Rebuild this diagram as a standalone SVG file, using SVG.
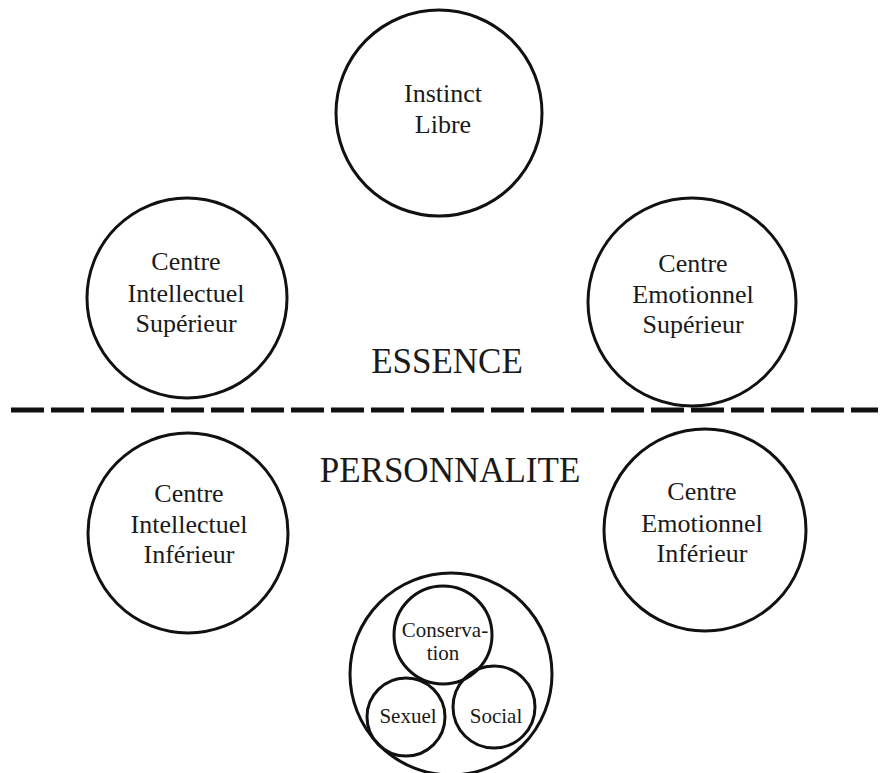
<svg xmlns="http://www.w3.org/2000/svg" width="884" height="773" viewBox="0 0 884 773">
  <style>
    .c { fill: none; stroke: #111; stroke-width: 3; }
    .t { font-family: "Liberation Serif", "DejaVu Serif", serif; font-size: 26px; fill: #1a1a1a; text-anchor: middle; }
    .s { font-family: "Liberation Serif", "DejaVu Serif", serif; font-size: 21px; fill: #1a1a1a; text-anchor: middle; }
    .big { font-family: "Liberation Serif", "DejaVu Serif", serif; font-size: 35px; fill: #1a1a1a; text-anchor: middle; }
    .dash { stroke: #111; stroke-width: 5; stroke-dasharray: 33 7; fill: none; }
  </style>
  <rect width="884" height="773" fill="#fff"/>

  <g id="instinct-libre">
    <circle class="c" cx="439" cy="113" r="103"/>
    <text class="t" x="443" y="102">Instinct</text>
    <text class="t" x="443" y="133">Libre</text>
  </g>

  <g id="centre-intellectuel-superieur">
    <circle class="c" cx="187" cy="298" r="100"/>
    <text class="t" x="186" y="270">Centre</text>
    <text class="t" x="186" y="302">Intellectuel</text>
    <text class="t" x="186" y="332">Supérieur</text>
  </g>

  <g id="centre-emotionnel-superieur">
    <circle class="c" cx="692" cy="302" r="104"/>
    <text class="t" x="693" y="272">Centre</text>
    <text class="t" x="693" y="303">Emotionnel</text>
    <text class="t" x="693" y="333">Supérieur</text>
  </g>

  <text class="big" x="447" y="373">ESSENCE</text>

  <g id="separator">
    <line class="dash" x1="11" y1="410" x2="878" y2="410"/>
  </g>

  <text class="big" x="450" y="482">PERSONNALITE</text>

  <g id="centre-intellectuel-inferieur">
    <circle class="c" cx="188" cy="533" r="100"/>
    <text class="t" x="189" y="502">Centre</text>
    <text class="t" x="189" y="533">Intellectuel</text>
    <text class="t" x="189" y="563">Inférieur</text>
  </g>

  <g id="centre-emotionnel-inferieur">
    <circle class="c" cx="705" cy="530" r="101"/>
    <text class="t" x="702" y="500">Centre</text>
    <text class="t" x="702" y="532">Emotionnel</text>
    <text class="t" x="702" y="562">Inférieur</text>
  </g>

  <g id="centre-instinctif">
    <circle class="c" cx="451" cy="674" r="101"/>
    <g id="conservation">
      <circle class="c" cx="443" cy="635" r="49"/>
      <text class="s" x="445" y="637">Conserva-</text>
      <text class="s" x="443" y="660">tion</text>
    </g>
    <g id="sexuel">
      <circle class="c" cx="406" cy="717" r="39"/>
      <text class="s" x="408" y="723">Sexuel</text>
    </g>
    <g id="social">
      <circle class="c" cx="494" cy="707" r="41"/>
      <text class="s" x="496" y="723">Social</text>
    </g>
  </g>
</svg>
